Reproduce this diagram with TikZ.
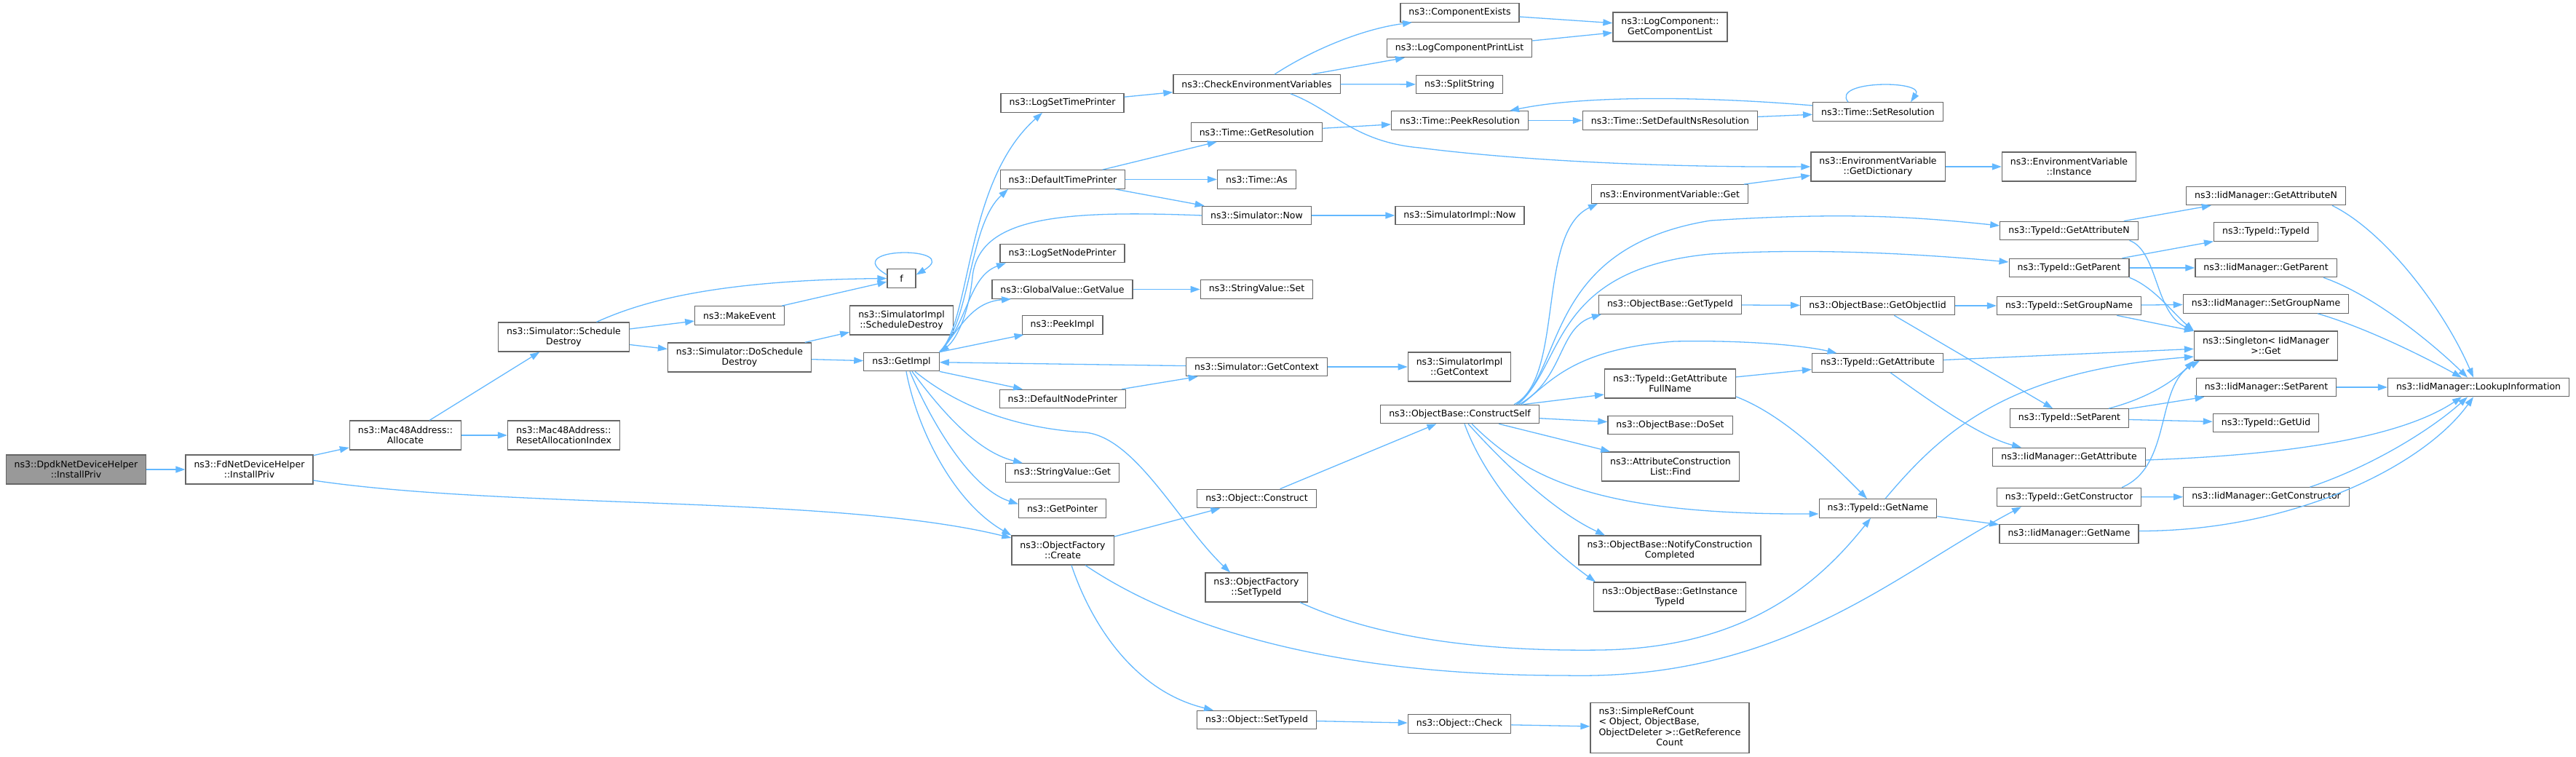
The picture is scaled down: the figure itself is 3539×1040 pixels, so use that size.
\documentclass[tikz,border=0pt]{standalone}
\usepackage{fontspec}
\setmainfont{DejaVu Sans}
\usetikzlibrary{arrows.meta}
\definecolor{edge_blue}{RGB}{99, 184, 255}
\definecolor{box_line}{RGB}{102, 102, 102}
\definecolor{root_grey}{RGB}{153, 153, 153}
\newcommand{\fnfont}{\fontsize{12.5}{14.5}\selectfont}
\tikzstyle{fn}=[rectangle,fill=white,draw=box_line,line width=1.2pt,
  inner xsep=11.5pt,inner ysep=2pt,minimum height=25.5pt,align=center,font=\fnfont]
\tikzstyle{fn2}=[fn,minimum height=40pt]
\tikzstyle{root}=[fn2,fill=root_grey]
\tikzstyle{call}=[draw=edge_blue,line width=1.3pt,-{Triangle[length=13pt,width=9pt]}]

\begin{document}
\begin{tikzpicture}[x=1pt, y=-1pt]
            \useasboundingbox (0, 0) rectangle (3539, 1040);
            \node [style=root] (0) at (104.5, 645) {ns3::DpdkNetDeviceHelper\\::InstallPriv};
            \node [style=fn2] (1) at (342.5, 645) {ns3::FdNetDeviceHelper\\::InstallPriv};
            \node [style=fn2] (2) at (557, 598) {ns3::Mac48Address::\\Allocate};
            \node [style=fn2] (3) at (774.5, 463) {ns3::Simulator::Schedule\\Destroy};
            \node [style=fn2] (4) at (774.5, 598) {ns3::Mac48Address::\\ResetAllocationIndex};
            \node [style=fn] (5) at (1016, 433.5) {ns3::MakeEvent};
            \node [style=fn2] (6) at (1016, 491) {ns3::Simulator::DoSchedule\\Destroy};
            \node [style=fn, minimum width=39pt] (7) at (1238.5, 382.5) {f};
            \node [style=fn2] (8) at (1238.5, 440) {ns3::SimulatorImpl\\::ScheduleDestroy};
            \node [style=fn] (9) at (1238.5, 497) {ns3::GetImpl};
            \node [style=fn] (10) at (1459.5, 141.5) {ns3::LogSetTimePrinter};
            \node [style=fn] (11) at (1460, 246.5) {ns3::DefaultTimePrinter};
            \node [style=fn] (12) at (1459.5, 348) {ns3::LogSetNodePrinter};
            \node [style=fn] (13) at (1459.5, 397.5) {ns3::GlobalValue::GetValue};
            \node [style=fn] (14) at (1459.5, 446.5) {ns3::PeekImpl};
            \node [style=fn] (15) at (1460, 548) {ns3::DefaultNodePrinter};
            \node [style=fn] (16) at (1459.5, 649.5) {ns3::StringValue::Get};
            \node [style=fn] (17) at (1459.5, 698.5) {ns3::GetPointer};
            \node [style=fn2] (18) at (1460, 756) {ns3::ObjectFactory\\::Create};
            \node [style=fn] (19) at (1726.5, 115.5) {ns3::CheckEnvironmentVariables};
            \node [style=fn] (20) at (1726.5, 181.5) {ns3::Time::GetResolution};
            \node [style=fn] (21) at (1726.5, 246.5) {ns3::Time::As};
            \node [style=fn] (22) at (1726.5, 296) {ns3::Simulator::Now};
            \node [style=fn] (23) at (1726.5, 397.5) {ns3::StringValue::Set};
            \node [style=fn] (24) at (1726.5, 504) {ns3::Simulator::GetContext};
            \node [style=fn] (25) at (1726.5, 685) {ns3::Object::Construct};
            \node [style=fn2] (26) at (1726, 807) {ns3::ObjectFactory\\::SetTypeId};
            \node [style=fn] (27) at (1726.5, 989) {ns3::Object::SetTypeId};
            \node [style=fn] (28) at (2005.5, 17.5) {ns3::ComponentExists};
            \node [style=fn] (29) at (2005, 66) {ns3::LogComponentPrintList};
            \node [style=fn] (30) at (2005, 116) {ns3::SplitString};
            \node [style=fn] (31) at (2005.5, 165.5) {ns3::Time::PeekResolution};
            \node [style=fn] (32) at (2005.5, 296) {ns3::SimulatorImpl::Now};
            \node [style=fn2] (33) at (2005, 504) {ns3::SimulatorImpl\\::GetContext};
            \node [style=fn] (34) at (2005.5, 569) {ns3::ObjectBase::ConstructSelf};
            \node [style=fn] (35) at (2005, 994.5) {ns3::Object::Check};
            \node [style=fn2] (36) at (2294.5, 37) {ns3::LogComponent::\\GetComponentList};
            \node [style=fn] (37) at (2294.5, 165.5) {ns3::Time::SetDefaultNsResolution};
            \node [style=fn] (38) at (2294, 266.5) {ns3::EnvironmentVariable::Get};
            \node [style=fn] (39) at (2294.5, 418.5) {ns3::ObjectBase::GetTypeId};
            \node [style=fn2] (40) at (2294.5, 527) {ns3::TypeId::GetAttribute\\FullName};
            \node [style=fn] (41) at (2294.5, 584) {ns3::ObjectBase::DoSet};
            \node [style=fn2] (42) at (2295, 641) {ns3::AttributeConstruction\\List::Find};
            \node [style=fn2] (43) at (2294, 756) {ns3::ObjectBase::NotifyConstruction\\Completed};
            \node [style=fn2] (44) at (2294, 820) {ns3::ObjectBase::GetInstance\\TypeId};
            \node [style=fn, minimum height=69pt] (45) at (2294, 1000) {\begin{tabular}{@{}l@{}}ns3::SimpleRefCount\\< Object, ObjectBase,\\ObjectDeleter >::GetReference\\\multicolumn{1}{@{}c@{}}{Count}\end{tabular}};
            \node [style=fn] (46) at (2580, 153.5) {ns3::Time::SetResolution};
            \node [style=fn2] (47) at (2580, 229) {ns3::EnvironmentVariable\\::GetDictionary};
            \node [style=fn] (48) at (2579.5, 420) {ns3::ObjectBase::GetObjectIid};
            \node [style=fn] (49) at (2579.5, 498.5) {ns3::TypeId::GetAttribute};
            \node [style=fn] (50) at (2580, 698.5) {ns3::TypeId::GetName};
            \node [style=fn2] (51) at (2842.5, 229) {ns3::EnvironmentVariable\\::Instance};
            \node [style=fn] (52) at (2842.5, 317) {ns3::TypeId::GetAttributeN};
            \node [style=fn] (53) at (2842.5, 368) {ns3::TypeId::GetParent};
            \node [style=fn] (54) at (2842.5, 420) {ns3::TypeId::SetGroupName};
            \node [style=fn] (55) at (2843, 574.5) {ns3::TypeId::SetParent};
            \node [style=fn] (56) at (2842.5, 628) {ns3::IidManager::GetAttribute};
            \node [style=fn] (57) at (2842.5, 683) {ns3::TypeId::GetConstructor};
            \node [style=fn] (58) at (2842.5, 733.5) {ns3::IidManager::GetName};
            \node [style=fn] (59) at (3113, 269) {ns3::IidManager::GetAttributeN};
            \node [style=fn] (60) at (3113, 318.5) {ns3::TypeId::TypeId};
            \node [style=fn] (61) at (3113, 368) {ns3::IidManager::GetParent};
            \node [style=fn] (62) at (3113, 417.5) {ns3::IidManager::SetGroupName};
            \node [style=fn2] (63) at (3113, 475) {ns3::Singleton< IidManager\\>::Get};
            \node [style=fn] (64) at (3113.5, 532) {ns3::IidManager::SetParent};
            \node [style=fn] (65) at (3113, 581) {ns3::TypeId::GetUid};
            \node [style=fn] (66) at (3113.5, 682.5) {ns3::IidManager::GetConstructor};
            \node [style=fn] (67) at (3405, 532) {ns3::IidManager::LookupInformation};
            \draw [style=call] (0) to (1);
            \draw [style=call] (1) to (2);
            \draw [style=call] ([yshift=-15pt]1.east) .. controls (700, 700) and (1150, 680) .. ([yshift=17pt]18.west);
            \draw [style=call] (2) to (3);
            \draw [style=call] (2) to (4);
            \draw [style=call] ([xshift=45pt]3.north) .. controls (880, 415) and (980, 385) .. (7.west);
            \draw [style=call] (3) to (5);
            \draw [style=call] (3) to (6);
            \draw [style=call] (5) to (7);
            \draw [style=call] ([yshift=5pt]7.west) .. controls (1150, 338) and (1325, 338) .. ([yshift=5pt]7.east);
            \draw [style=call] (6) to (8);
            \draw [style=call] (6) to (9);
            \draw [style=call] (9.north east) .. controls (1335, 440) and (1325, 250) .. ([xshift=-27.5pt]10.south);
            \draw [style=call] (9.north east) .. controls (1335, 440) and (1330, 310) .. ([xshift=-75pt]11.south);
            \draw [style=call] (9.north east) .. controls (1330, 445) and (1330, 380) .. ([xshift=-77.5pt]12.south);
            \draw [style=call] (9.north east) .. controls (1320, 450) and (1335, 415) .. ([xshift=-70.5pt]13.south);
            \draw [style=call] (9.north east) to ([xshift=3pt]14.south west);
            \draw [style=call] (9.south east) to ([xshift=-55pt]15.north);
            \draw [style=call] ([xshift=14.5pt]9.south) .. controls (1290, 560) and (1340, 620) .. ([xshift=-54.5pt]16.north);
            \draw [style=call] ([xshift=11.5pt]9.south) .. controls (1275, 570) and (1330, 670) .. ([yshift=6pt]17.west);
            \draw [style=call] ([xshift=6.5pt]9.south) .. controls (1260, 590) and (1310, 690) .. (18.north west);
            \draw [style=call] ([xshift=18.5pt]9.south) .. controls (1330, 570) and (1420, 590) .. (1490, 594) .. controls (1560, 600) and (1620, 720) .. ([xshift=-36pt]26.north);
            \draw [style=call] (22.west) .. controls (1450, 288) and (1345, 300) .. (1336, 380) .. controls (1330, 440) and (1310, 470) .. (9.north east);
            \draw [style=call] (24) to (9);
            \draw [style=call] (10) to (19);
            \draw [style=call] ([xshift=24.5pt]19.north) .. controls (1800, 70) and (1870, 40) .. ([xshift=-65.5pt]28.south);
            \draw [style=call] (19) to (29);
            \draw [style=call] (19) to (30);
            \draw [style=call] ([xshift=46.5pt]19.south) .. controls (1830, 150) and (1860, 195) .. (1950, 203) .. controls (2100, 222) and (2300, 230) .. (47.west);
            \draw [style=call] (28) to (36);
            \draw [style=call] (29) to (36);
            \draw [style=call] (11) to (20);
            \draw [style=call] (11) to (21);
            \draw [style=call] (11) to (22);
            \draw [style=call] (20) to (31);
            \draw [style=call] (31) to (37);
            \draw [style=call] (37) to (46);
            \draw [style=call] ([xshift=-41pt]46.north) .. controls (2515, 110) and (2645, 110) .. ([xshift=45pt]46.north);
            \draw [style=call] ([yshift=8.5pt]46.west) .. controls (2350, 133) and (2180, 130) .. ([xshift=68.5pt]31.north);
            \draw [style=call] (22) to (32);
            \draw [style=call] (13) to (23);
            \draw [style=call] (15) to (24);
            \draw [style=call] (24) to (33);
            \draw [style=call] (18) to (25);
            \draw [style=call] ([xshift=12pt]18.south) .. controls (1500, 860) and (1560, 950) .. ([xshift=-59.5pt]27.north);
            \draw [style=call] ([xshift=31pt]18.south) .. controls (1600, 850) and (1800, 928) .. (2150, 928) .. controls (2450, 935) and (2600, 790) .. ([xshift=-65.5pt]57.south);
            \draw [style=call] ([xshift=60pt]26.south) .. controls (1900, 880) and (2050, 895) .. (2200, 893) .. controls (2400, 890) and (2500, 800) .. ([xshift=-10pt]50.south);
            \draw [style=call] (25) to (34);
            \draw [style=call] (27) to (35);
            \draw [style=call] (35) to (45);
            \draw [style=call] ([xshift=74.5pt]34.north) .. controls (2150, 520) and (2110, 320) .. ([xshift=-99pt]38.south);
            \draw [style=call] ([xshift=77.5pt]34.north) .. controls (2150, 510) and (2120, 340) .. (2350, 303) .. controls (2550, 290) and (2650, 300) .. ([yshift=7pt]52.west);
            \draw [style=call] ([xshift=79.5pt]34.north) .. controls (2150, 500) and (2130, 370) .. (2350, 349) .. controls (2500, 340) and (2650, 350) .. ([yshift=8pt]53.west);
            \draw [style=call] ([xshift=81.5pt]34.north) .. controls (2150, 520) and (2140, 450) .. ([xshift=-94.5pt]39.south);
            \draw [style=call] ([xshift=84.5pt]34.north) .. controls (2130, 525) and (2160, 480) .. (2300, 469) .. controls (2400, 467) and (2480, 475) .. ([xshift=-56pt]49.north);
            \draw [style=call] ([xshift=87pt]34.north) to ([yshift=-15pt]40.west);
            \draw [style=call] (34) to (41);
            \draw [style=call] (34) to (42);
            \draw [style=call] ([xshift=11.5pt]34.south) .. controls (2060, 630) and (2130, 700) .. ([xshift=-89pt]43.north);
            \draw [style=call] ([xshift=6.5pt]34.south) .. controls (2040, 660) and (2110, 740) .. ([xshift=-102pt]44.north);
            \draw [style=call] ([xshift=16.5pt]34.south) .. controls (2100, 660) and (2200, 707) .. ([yshift=-7.5pt]50.west);
            \draw [style=call] (40) to (49);
            \draw [style=call] ([yshift=-18pt]40.east) .. controls (2450, 570) and (2510, 630) .. ([xshift=-15pt]50.north);
            \draw [style=call] (39) to (48);
            \draw [style=call] (48) to (54);
            \draw [style=call] (48) to (55);
            \draw [style=call] ([xshift=17.5pt]49.south) .. controls (2650, 550) and (2720, 600) .. ([xshift=-65.5pt]56.north);
            \draw [style=call] (49) to (63);
            \draw [style=call] ([xshift=10pt]50.north) .. controls (2670, 590) and (2760, 510) .. ([yshift=-15pt]63.west);
            \draw [style=call] (50) to (58);
            \draw [style=call] (52) to (59);
            \draw [style=call] ([xshift=83pt]52.south) .. controls (2965, 345) and (2960, 430) .. (63.north west);
            \draw [style=call] (53) to (60);
            \draw [style=call] (53) to (61);
            \draw [style=call] (53.south east) .. controls (2960, 395) and (2985, 430) .. (63.north west);
            \draw [style=call] (54) to (62);
            \draw [style=call] (54) to (63);
            \draw [style=call] ([xshift=54pt]55.north) .. controls (2940, 550) and (2980, 530) .. (63.south west);
            \draw [style=call] (55) to (64);
            \draw [style=call] (55) to (65);
            \draw [style=call] (57) to (66);
            \draw [style=call] ([xshift=72.5pt]57.north) .. controls (2985, 640) and (2960, 530) .. ([xshift=-91pt]63.south);
            \draw [style=call] ([xshift=91pt]59.south) .. controls (3280, 320) and (3360, 430) .. ([xshift=-7pt]67.north);
            \draw [style=call] ([xshift=79pt]61.south) .. controls (3260, 405) and (3340, 470) .. ([xshift=-15pt]67.north);
            \draw [style=call] ([xshift=71pt]62.south) .. controls (3250, 450) and (3330, 490) .. ([xshift=-23pt]67.north);
            \draw [style=call] (64) to (67);
            \draw [style=call] ([yshift=-4pt]56.east) .. controls (3150, 625) and (3300, 600) .. ([xshift=-23pt]67.south);
            \draw [style=call] ([xshift=60pt]66.north) .. controls (3260, 640) and (3340, 590) .. ([xshift=-15pt]67.south);
            \draw [style=call] ([yshift=4pt]58.east) .. controls (3150, 730) and (3330, 640) .. ([xshift=-7pt]67.south);
            \draw [style=call] (38) to (47);
            \draw [style=call] (47) to (51);
    \end{tikzpicture}
\end{document}
